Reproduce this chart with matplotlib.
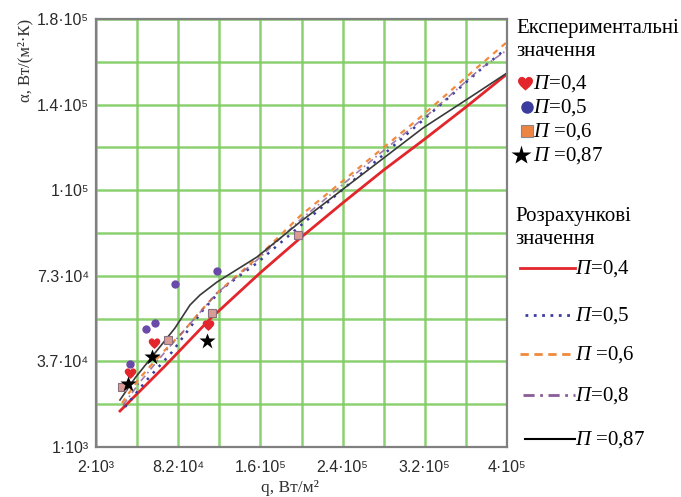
import numpy as np
import matplotlib
matplotlib.use("Agg")
import matplotlib.pyplot as plt
from matplotlib.path import Path

plt.rcParams['mathtext.fontset'] = 'custom'
plt.rcParams['mathtext.rm'] = 'Liberation Serif'
plt.rcParams['mathtext.it'] = 'Liberation Serif:italic'

# calculated curves (q, W/m2 -> alpha)
q_04 = [2.52e4, 6.88e4, 1.124e5, 1.608e5, 2.01e5, 2.408e5, 2.806e5, 3.204e5, 3.603e5, 4.0e5]
a_04 = [1.606e4, 3.487e4, 5.453e4, 7.377e4, 8.882e4, 1.0304e5, 1.1684e5, 1.2981e5, 1.4319e5, 1.5699e5]

q_05 = [3.01e4, 4.95e4, 7.56e4, 1.056e5, 1.25e5, 1.579e5, 1.996e5, 2.799e5, 3.254e5, 3.739e5, 4.0e5]
a_05 = [1.773e4, 2.818e4, 4.073e4, 5.829e4, 6.749e4, 7.795e4, 9.342e4, 1.2311e5, 1.4026e5, 1.5866e5, 1.6786e5]

q_06 = [2.72e4, 4.27e4, 6.59e4, 8.53e4, 1.008e5, 1.192e5, 1.579e5, 1.996e5, 2.799e5, 3.186e5, 3.739e5, 4.0e5]
a_06 = [1.94e4, 2.902e4, 4.031e4, 4.868e4, 5.662e4, 6.54e4, 8.004e4, 9.76e4, 1.2604e5, 1.3984e5, 1.6075e5, 1.7037e5]

q_08 = [2.82e4, 4.46e4, 6.88e4, 9.79e4, 1.192e5, 1.579e5, 1.996e5, 2.799e5, 3.254e5, 3.739e5, 4.0e5]
a_08 = [1.856e4, 2.818e4, 4.073e4, 5.495e4, 6.54e4, 7.92e4, 9.593e4, 1.2479e5, 1.4068e5, 1.5908e5, 1.6703e5]

q_087 = [2.52e4, 3.98e4, 5.91e4, 7.85e4, 9.30e4, 1.027e5, 1.192e5, 1.579e5, 1.996e5, 3.186e5, 3.603e5, 4.0e5]
a_087 = [2.066e4, 2.986e4, 4.031e4, 5.077e4, 6.038e4, 6.457e4, 7.0e4, 8.046e4, 9.51e4, 1.3441e5, 1.4612e5, 1.5741e5]

# experimental points
q_exp_04 = [3.49e4, 5.82e4, 1.105e5]
a_exp_04 = [3.195e4, 4.449e4, 5.202e4]
q_exp_05 = [3.49e4, 5.04e4, 5.91e4, 7.85e4, 1.192e5]
a_exp_05 = [3.571e4, 5.035e4, 5.286e4, 6.917e4, 7.46e4]
q_exp_06 = [2.72e4, 7.17e4, 1.143e5, 1.976e5]
a_exp_06 = [2.609e4, 4.575e4, 5.704e4, 8.966e4]
q_exp_087 = [3.30e4, 5.62e4, 1.095e5]
a_exp_087 = [2.735e4, 3.864e4, 4.533e4]

x_ticks = [2e3, 8.16e4, 1.612e5, 2.408e5, 3.204e5, 4e5]
x_labels = ['2·10³', '8.2·10⁴', '1.6·10⁵', '2.4·10⁵', '3.2·10⁵', '4·10⁵']
y_ticks = [1e3, 3.68e4, 7.26e4, 1.084e5, 1.442e5, 1.8e5]
y_labels = ['1·10³', '3.7·10⁴', '7.3·10⁴', '1·10⁵', '1.4·10⁵', '1.8·10⁵']

legend_exp = ['=0,4', '=0,5', ' =0,6', ' =0,87']
legend_calc = ['=0,4', '=0,5', ' =0,6', '=0,8', ' =0,87']

RED = '#e2262c'
BLUE = '#3c3c9e'
ORANGE = '#f08a3c'
PURPLE = '#8a5c98'
BLACK = '#3a3a3a'
GREEN = '#80cc62'

# heart marker shape
heart = Path(
    [(0, -0.9), (-0.6, -0.4), (-1.15, 0.1), (-0.9, 0.55),
     (-0.7, 0.95), (-0.2, 0.95), (0, 0.55),
     (0.2, 0.95), (0.7, 0.95), (0.9, 0.55),
     (1.15, 0.1), (0.6, -0.4), (0, -0.9), (0, -0.9)],
    [Path.MOVETO] + [Path.CURVE4] * 12 + [Path.CLOSEPOLY])

fig = plt.figure(figsize=(6.81, 4.97), dpi=100)
ax = fig.add_axes([0.141, 0.1006, 0.6035, 0.8612])

ax.set_xlim(2e3, 4e5)
ax.set_ylim(1e3, 1.8e5)
ax.set_xticks(x_ticks)
ax.set_xticklabels(x_labels)
ax.set_yticks(y_ticks)
ax.set_yticklabels(y_labels)
ax.set_xticks(np.linspace(2e3, 4e5, 11), minor=True)
ax.set_yticks(np.linspace(1e3, 1.8e5, 11), minor=True)
ax.grid(which='both', color=GREEN, lw=1.8, alpha=0.9)
ax.set_axisbelow(True)
ax.tick_params(which='both', length=0)
ax.tick_params(axis='x', pad=9)
ax.tick_params(axis='y', pad=5)
for lab in ax.get_xticklabels() + ax.get_yticklabels():
    lab.set_family(['Liberation Sans', 'DejaVu Sans'])
    lab.set_fontsize(11.5)
    lab.set_color('#2a2a2a')
for s in ax.spines.values():
    s.set_color('#808080')
    s.set_linewidth(1.6)

ax.plot(q_04, a_04, color=RED, lw=2.0)
ax.plot(q_05, a_05, color=BLUE, lw=1.8, ls=(0, (1, 2.5)))
ax.plot(q_06, a_06, color=ORANGE, lw=1.6, ls=(0, (2.5, 2.5)))
ax.plot(q_08, a_08, color=PURPLE, lw=1.2, ls=(0, (4, 2, 1, 2)), alpha=0.8)
ax.plot(q_087, a_087, color=BLACK, lw=1.2)

ax.plot(q_exp_05, a_exp_05, 'o', color='#6a4aa8', ms=6, mec='none')
ax.plot(q_exp_04, a_exp_04, ls='none', marker=heart, color=RED, ms=10, mec='none')
ax.plot(q_exp_06, a_exp_06, 's', color='#d89c94', mec='#8a7080', mew=0.8, ms=6)
ax.plot(q_exp_087, a_exp_087, '*', color='black', ms=12, mec='none')

fig.text(25 / 681, 1 - 60 / 497, 'α, Вт/(м²·К)', rotation=90, ha='center', va='center',
         family=['Liberation Serif', 'DejaVu Serif'], fontsize=12, color='#333333')
fig.text(290 / 681, 1 - 488 / 497, 'q, Вт/м²', ha='center', va='center',
         family=['Liberation Serif', 'DejaVu Serif'], fontsize=12.5, color='#333333')

# legend area drawn in pixel coordinates
lg = fig.add_axes([0, 0, 1, 1], facecolor='none')
lg.set_xlim(0, 681)
lg.set_ylim(497, 0)
lg.axis('off')
serif = ['Liberation Serif', 'DejaVu Serif']

lg.text(516, 29, 'Експериментальні', va='center', ha='left', family=serif, fontsize=15)
lg.text(516, 52, 'значення', va='center', ha='left', family=serif, fontsize=15)
exp_y = [83, 107, 131, 155]
exp_x = [525, 527, 527, 521]
lg.plot(exp_x[0], exp_y[0], ls='none', marker=heart, color=RED, ms=13, mec='none')
lg.plot(exp_x[1], exp_y[1], 'o', color=BLUE, ms=9, mec='none')
lg.plot(exp_x[2], exp_y[2], 's', color='#ee8444', mec='#888888', mew=0.8, ms=9)
lg.plot(exp_x[3], exp_y[3], '*', color='black', ms=15, mec='none')
for yy, lab in zip(exp_y, legend_exp):
    lg.text(533, yy + 1, r'$\mathit{П}$' + lab, va='center', ha='left', family=serif, fontsize=15)

lg.text(515, 217, 'Розрахункові', va='center', ha='left', family=serif, fontsize=15)
lg.text(515, 240, 'значення', va='center', ha='left', family=serif, fontsize=15)
calc_y = [268, 315, 354, 395, 439]
calc_x0 = [520, 525, 520, 523, 525]
calc_style = [(RED, '-', 2.0), (BLUE, (0, (1, 2)), 2.0), (ORANGE, (0, (3, 2)), 2.0),
              (PURPLE, (0, (4, 2, 1, 2)), 2.0), ('black', '-', 1.5)]
for yy, x0, (c, ls, lw), lab in zip(calc_y, calc_x0, calc_style, legend_calc):
    lg.plot([x0, 575], [yy, yy], color=c, ls=ls, lw=lw)
    lg.text(575, yy + 1, r'$\mathit{П}$' + lab, va='center', ha='left', family=serif, fontsize=15)

fig.savefig('out.png', dpi=100)
